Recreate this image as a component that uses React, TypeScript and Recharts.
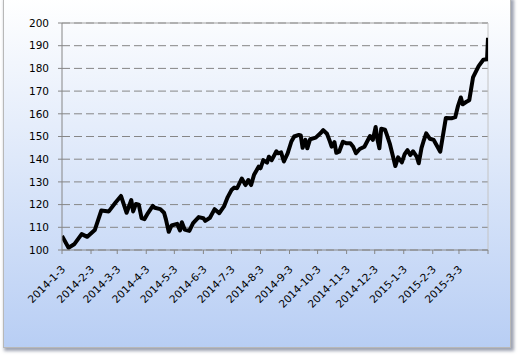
import { LineChart, Line, XAxis, YAxis, CartesianGrid, ReferenceLine } from 'recharts';

// days counted from 2014-1-3
const days = [
  0, 7, 13, 21, 27, 35, 42, 50, 57, 63, 69, 74, 76, 79, 82, 85, 88, 92, 97, 99,
  105, 109, 111, 114, 117, 123, 126, 128, 131, 136, 140, 146, 151, 153, 158, 163, 168, 173, 177, 181,
  184, 187, 192, 196, 199, 202, 205, 210, 212, 215, 219, 221, 224, 229, 231, 234, 237, 241, 245, 248,
  253, 255, 257, 260, 262, 265, 271, 276, 279, 283, 286, 288, 291, 293, 296, 300, 304, 308, 311, 314,
  318, 323, 329, 332, 335, 337, 339, 341, 345, 347, 350, 354, 356, 359, 363, 366, 369, 372, 375, 379,
  381, 384, 386, 389, 393, 397, 400, 404, 410, 416, 420, 423, 426, 428, 432, 435, 439, 445, 450, 454,
  455,
];

const values = [
  106.2, 101, 102.5, 107, 105.8, 108.8, 117.4, 117, 120.8, 123.8, 116.4, 122, 117, 120.3, 120, 114, 113.6, 116.4, 119.4, 118.6,
  118, 116.4, 113.5, 108, 110.8, 111.5, 108.6, 112.2, 109, 108.4, 111.8, 114.5, 114, 112.8, 114.2, 118, 116.2, 119.2, 123.3, 126.4,
  127.5, 127.2, 131.5, 128.6, 130.8, 128.6, 133, 136.7, 136, 139.6, 138.5, 141.1, 139.6, 143.5, 142.6, 143, 139, 142.6, 147.8, 150,
  150.7, 150.5, 145, 148.5, 144.8, 148.8, 149.5, 151.4, 152.8, 151.2, 148, 145.5, 147.5, 142.8, 143.3, 147.7, 147, 147, 145.5, 142.6,
  144.5, 145.5, 150.2, 148.5, 154.2, 148.5, 144.8, 153.4, 153, 150.7, 147, 140.4, 137, 140.8, 138.6, 142.2, 144, 141.8, 143.5, 141,
  138.2, 145, 147.7, 151.4, 149, 148.5, 146.3, 143.3, 158.2, 158, 158.5, 163.5, 167.2, 164.2, 165.3, 166, 176, 181, 183.8, 184,
  193.5,
];

const tickDays = [0, 31, 59, 90, 120, 151, 181, 212, 243, 273, 304, 334, 365, 396, 424, 455];
const tickLabels = [
  '2014-1-3', '2014-2-3', '2014-3-3', '2014-4-3', '2014-5-3', '2014-6-3', '2014-7-3', '2014-8-3',
  '2014-9-3', '2014-10-3', '2014-11-3', '2014-12-3', '2015-1-3', '2015-2-3', '2015-3-3', '',
];
const yTicks = [100, 110, 120, 130, 140, 150, 160, 170, 180, 190, 200];

const data = days.map((d, i) => ({ day: d, value: values[i] }));

const FONT = '"DejaVu Sans", Verdana, sans-serif';

function DateTick(props: any) {
  const { x, y, payload } = props;
  const label = tickLabels[tickDays.indexOf(payload.value)];
  if (!label) return null;
  const ax = x + 4;
  const ay = y + 14;
  return (
    <text
      x={ax}
      y={ay}
      textAnchor="end"
      fontSize={10.5}
      fontFamily={FONT}
      fill="#000"
      transform={`rotate(-45, ${ax}, ${ay})`}
    >
      {label}
    </text>
  );
}

export default function App() {
  return (
    <div style={{ position: 'absolute', left: 0, top: 0, width: 520, height: 356, background: '#fff', overflow: 'hidden' }}>
      <div
        style={{
          position: 'absolute',
          left: 3,
          top: -2,
          width: 506,
          height: 348,
          border: '1px solid #b8b8b8',
          background: 'linear-gradient(to bottom, #ffffff 0%, #dfe9fa 45%, #b8cef4 100%)',
          boxShadow: '2px 2px 3px 1px rgba(80, 90, 115, 0.55)',
        }}
      />
      <div style={{ position: 'absolute', left: 0, top: 0 }}>
        <LineChart
          width={520}
          height={356}
          data={data}
          margin={{ top: 23, right: 32, left: 0, bottom: 46 }}
        >
          <CartesianGrid horizontal vertical={false} stroke="#868686" strokeDasharray="8 4" />
          <XAxis
            type="number"
            dataKey="day"
            domain={[0, 455]}
            ticks={tickDays}
            interval={0}
            height={60}
            tick={<DateTick />}
            tickSize={4}
            stroke="#868686"
            tickLine={{ stroke: '#868686' }}
            allowDataOverflow
          />
          <YAxis
            type="number"
            domain={[100, 200]}
            ticks={yTicks}
            interval={0}
            width={62}
            tickSize={4}
            tickMargin={9}
            stroke="#868686"
            tick={{ fontSize: 10.5, fontFamily: FONT, fill: '#000' }}
          />
          <ReferenceLine y={200} stroke="#a0a0a0" />
          <ReferenceLine x={455} stroke="#c4c4c4" />
          <Line
            type="linear"
            dataKey="value"
            stroke="#000"
            strokeWidth={4}
            strokeLinejoin="round"
            dot={false}
            isAnimationActive={false}
          />
        </LineChart>
      </div>
    </div>
  );
}
